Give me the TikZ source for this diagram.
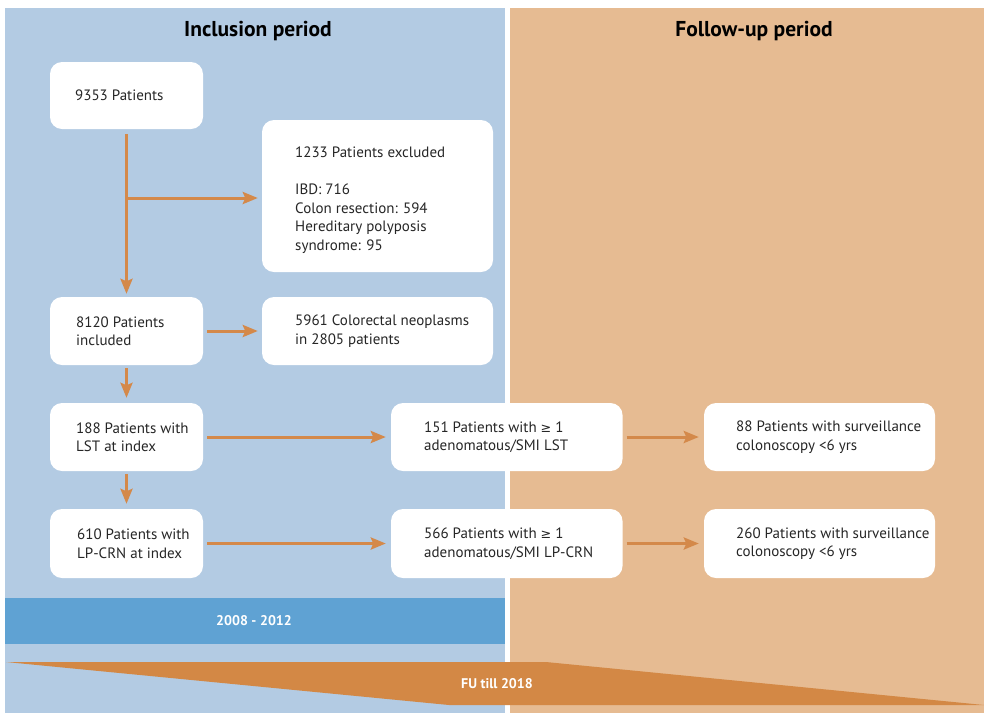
\documentclass[tikz,border=0pt]{standalone}
\usepackage{fontspec}
\setmainfont{PT Sans}
\newfontfamily\symf[Scale=0.85]{DejaVu Sans}
\usetikzlibrary{arrows.meta}
\definecolor{panelblue}{RGB}{179,203,227}
\definecolor{panelorange}{RGB}{230,187,146}
\definecolor{barblue}{RGB}{95,162,211}
\definecolor{barorange}{RGB}{211,136,69}
\definecolor{arrcol}{RGB}{212,137,74}
\newcommand{\gesym}{{\symf ≥}}
\begin{document}
\begin{tikzpicture}[x=1pt,y=-1pt,
  box/.style={draw=none,fill=white,rounded corners=12pt,inner sep=0pt,rectangle},
  txt/.style={anchor=west,align=left,inner sep=0pt,font=\fontsize{15}{18.5}\selectfont,text=black!85},
  title/.style={font=\fontsize{21.5}{24}\selectfont\bfseries,text=black,inner sep=0pt},
  bartxt/.style={font=\fontsize{14}{16}\selectfont\bfseries,text=white,inner sep=0pt},
  arr/.style={draw=arrcol,line width=3pt,-{Stealth[length=15pt,width=12pt,inset=2.5pt]}}]
\useasboundingbox (0,0) rectangle (984,713);
\fill[white] (0,0) rectangle (984,713);
% panels
\fill[panelblue] (5,8) rectangle (505,713);
\fill[panelorange] (509.5,8) rectangle (984,713);
\node[title] (tin) at (258,31) {Inclusion period};
\node[title] (tfu) at (754,31) {Follow-up period};
% bars
\fill[barblue] (5,598) rectangle (505,644);
\node[bartxt] (yrs) at (254,621) {2008 - 2012};
\fill[barorange] (6,662) -- (546,662) -- (984,705) -- (449,705) -- cycle;
\node[bartxt] (fu) at (497,684) {FU till 2018};
% boxes
\node[box,minimum width=153pt,minimum height=67pt] (n1) at (126.5,95.5) {};
\node[box,minimum width=231pt,minimum height=152pt] (n2) at (377.5,196) {};
\node[box,minimum width=153pt,minimum height=68pt] (n3) at (126.5,331) {};
\node[box,minimum width=231pt,minimum height=68pt] (n4) at (377.5,331) {};
\node[box,minimum width=153pt,minimum height=68pt] (n5) at (126.5,437) {};
\node[box,minimum width=231.5pt,minimum height=68pt] (n6) at (506.75,437) {};
\node[box,minimum width=231pt,minimum height=68pt] (n7) at (819.5,437) {};
\node[box,minimum width=153pt,minimum height=69pt] (n8) at (126.5,543.5) {};
\node[box,minimum width=231.5pt,minimum height=69pt] (n9) at (506.75,543.5) {};
\node[box,minimum width=231pt,minimum height=69pt] (n10) at (819.5,543.5) {};
% texts
\node[txt] (x1) at (75,95.5) {9353 Patients};
\node[txt] (x2) at (295,200) {1233 Patients excluded\\[18.5pt]IBD: 716\\Colon resection: 594\\Hereditary polyposis\\syndrome: 95};
\node[txt] (x3) at (76,331) {8120 Patients\\included};
\node[txt] (x4) at (295,331) {5961 Colorectal neoplasms\\in 2805 patients};
\node[txt] (x5) at (76,437) {188 Patients with\\LST at index};
\node[txt] (x6) at (424,437) {151 Patients with \gesym\ 1\\adenomatous/SMI LST};
\node[txt] (x7) at (736,437) {88 Patients with surveillance\\colonoscopy <6 yrs};
\node[txt] (x8) at (77,543.5) {610 Patients with\\LP-CRN at index};
\node[txt] (x9) at (424,543.5) {566 Patients with \gesym\ 1\\adenomatous/SMI LP-CRN};
\node[txt] (x10) at (736,543.5) {260 Patients with surveillance\\colonoscopy <6 yrs};
% connectors
\draw[arr] ([yshift=-5pt]n1.south) -- ([yshift=3pt]n3.north);
\draw[arr] (n1.south |- 0,198) -- ([xshift=-4pt]n2.west |- 0,198);
\draw[arr] ([xshift=4pt]n3.east) -- ([xshift=-4pt]n4.west);
\draw[arr] ([yshift=-3pt]n3.south) -- ([yshift=5pt]n5.north);
\draw[arr] ([xshift=4pt]n5.east) -- ([xshift=-5pt]n6.west);
\draw[arr] ([xshift=4pt]n6.east) -- ([xshift=-5pt]n7.west);
\draw[arr] ([yshift=-3pt]n5.south) -- ([yshift=5pt]n8.north);
\draw[arr] ([xshift=4pt]n8.east) -- ([xshift=-5pt]n9.west);
\draw[arr] ([xshift=4pt]n9.east) -- ([xshift=-5pt]n10.west);
\end{tikzpicture}
\end{document}
